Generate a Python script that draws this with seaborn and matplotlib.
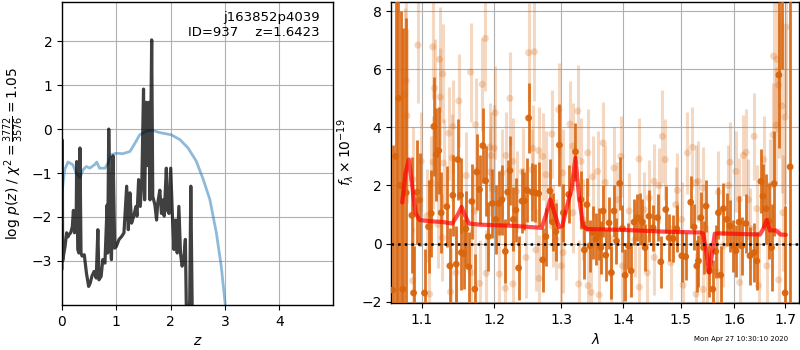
import numpy as np
import pandas as pd
import matplotlib
matplotlib.use("Agg")
import matplotlib.pyplot as plt
from matplotlib.ticker import NullLocator, FixedLocator, FixedFormatter
import seaborn as sns

# ---------------- data: left panel ----------------
z_pdf = [0.0, 0.05, 0.11, 0.2, 0.26, 0.33, 0.39, 0.45, 0.51, 0.6, 0.64, 0.69, 0.79, 0.85,
         0.91, 1.0, 1.12, 1.25, 1.31, 1.43, 1.55, 1.67, 1.8, 2.01, 2.17, 2.32, 2.47, 2.6,
         2.72, 2.84, 2.93, 3.0, 3.05]
logp_pdf = [-1.45, -0.92, -0.75, -0.81, -1.0, -1.11, -0.92, -0.85, -0.89, -0.81, -0.75, -0.89,
            -0.89, -0.77, -0.58, -0.55, -0.56, -0.51, -0.39, -0.13, -0.05, -0.03, -0.08, -0.13,
            -0.24, -0.43, -0.73, -1.15, -1.6, -2.36, -3.12, -3.95, -4.6]

z_chi = [0.0, 0.005, 0.012, 0.056, 0.086, 0.11, 0.13, 0.16, 0.19, 0.21, 0.23, 0.26, 0.27,
         0.29, 0.31, 0.33, 0.35, 0.37, 0.41, 0.45, 0.49, 0.52, 0.55, 0.59, 0.63, 0.66, 0.68,
         0.72, 0.75, 0.79, 0.83, 0.84, 0.86, 0.89, 0.91, 0.94, 0.97, 1.0, 1.05, 1.1, 1.14,
         1.19, 1.22, 1.25, 1.28, 1.32, 1.36, 1.38, 1.41, 1.44, 1.47, 1.50, 1.52, 1.55, 1.57,
         1.60, 1.62, 1.65, 1.67, 1.71, 1.74, 1.76, 1.80, 1.83, 1.86, 1.88, 1.92, 1.94, 1.97,
         2.0, 2.03, 2.06, 2.09, 2.12, 2.15, 2.18, 2.21, 2.24, 2.27, 2.29, 2.32, 2.35, 2.37,
         2.40, 2.42]
logp_chi = [-3.19, -0.25, -3.0, -2.67, -2.36, -2.45, -2.40, -2.36, -2.22, -1.85, -2.36, -2.22,
            -0.74, -2.74, -2.82, -0.43, -2.82, -2.89, -2.86, -3.28, -3.58, -3.50, -3.35, -3.24,
            -3.39, -2.29, -3.43, -3.35, -2.97, -3.05, -1.73, -2.82, 0.0, -2.51, -2.97, -0.61,
            -2.71, -2.67, -2.51, -2.44, -2.36, -1.30, -2.29, -1.45, -2.14, -1.98, -1.76, -1.98,
            -1.15, -1.76, -1.15, 0.91, -1.61, 0.61, -0.83, 0.61, -1.61, 2.03, -1.53, -1.73,
            -2.07, -1.70, -1.39, -1.92, -1.61, -1.98, -0.89, -1.85, -1.92, -0.89, -1.92, -2.74,
            -2.07, -2.82, -1.76, -2.82, -3.12, -2.97, -2.51, -4.3, -4.5, -3.9, -1.30, -4.6, -7.0]

title_lines = ["j163852p4039", "ID=937    z=1.6423"]
left_ylabel = r"log $p(z)$ / $\chi^2=\frac{3772}{3576}=1.05$"
timestamp = "Mon Apr 27 10:30:10 2020"

# ---------------- data: right panel ----------------
wave_a = [1.0621, 1.0660, 1.0697, 1.0723, 1.0753, 1.0797, 1.0870, 1.0892, 1.0940, 1.0970,
          1.1036, 1.1089, 1.1125, 1.1160, 1.1192, 1.1227, 1.1259, 1.1335, 1.1376, 1.1417,
          1.1464, 1.1486, 1.1523, 1.1533, 1.1565, 1.1597, 1.1638, 1.1680, 1.1722, 1.1750,
          1.1788, 1.1835, 1.1874, 1.1912, 1.1970, 1.2021, 1.2060, 1.2109, 1.2158, 1.2192,
          1.2225, 1.2275, 1.2313, 1.2353, 1.2402, 1.2438, 1.2477, 1.2502, 1.2552, 1.2603,
          1.2653, 1.2714, 1.2764, 1.2826, 1.2867, 1.2918, 1.2971, 1.3034, 1.3117, 1.3224,
          1.3312, 1.3366, 1.3408, 1.3456, 1.3500, 1.3555, 1.3595, 1.3632, 1.3670, 1.3713,
          1.3767, 1.3806, 1.3850, 1.3890, 1.3945, 1.3990, 1.4034, 1.4091, 1.4135, 1.4186,
          1.4244, 1.4283, 1.4329, 1.4374, 1.4443, 1.4513, 1.4590, 1.4648, 1.4735, 1.4793,
          1.4864, 1.4930, 1.5020, 1.5092, 1.5183, 1.5244, 1.5293, 1.5324, 1.5367, 1.5417,
          1.5465, 1.5527, 1.5589, 1.5644, 1.5694, 1.5737, 1.5788, 1.5851, 1.5914, 1.5979,
          1.6029, 1.6087, 1.6139, 1.6222, 1.6300, 1.6380, 1.6434, 1.6515, 1.6555, 1.6614,
          1.6673, 1.6727, 1.6779, 1.6874, 1.6935, 1.7001, 1.7103]
flux_a = [-1.6, 3.0, 5.0, 2.0, -1.57, 1.75, 0.97, -1.70, 1.77, 1.5,
          -1.70, 0.58, 1.04, 4.03, 3.06, 3.2, 1.06, 1.27, -0.77, 1.66,
          -0.71, 2.89, 1.66, -0.31, -0.35, 0.51, -0.80, 1.45, -1.57, 2.46,
          1.86, 3.37, 2.16, 0.24, 1.38, 0.83, 1.38, 1.51, -0.27, 1.77,
          2.51, 0.83, 1.15, -0.84, 1.46, 1.47, 1.84, 4.32, 1.77, 1.75,
          1.72, -0.56, 0.24, 1.81, 0.74, 0.41, 3.39, 1.06, 1.69, 3.16,
          1.51, -0.22, 1.34, -0.08, 0.38, 0.15, 0.32, -0.14, 1.12, -0.40,
          0.71, -1.0, 1.12, 0.09, 2.07, 0.52, -1.09, -0.08, -0.94, 0.74,
          0.89, 0.85, 0.74, -0.14, 0.94, 0.54, 0.89, -0.63, 1.17, 0.2,
          0.17, 0.51, -0.42, -0.45, 1.42, 0.57, -0.77, -0.6, 0.89, -0.14,
          1.29, -0.94, -1.57, -0.27, 1.06, -1.09, 1.2, 0.83, 0.6, -0.08,
          -0.25, 0.74, -0.08, 0.69, -0.42, -0.31, -0.6, 2.14, 1.63, 1.2,
          0.77, -0.14, 2.06, 5.8, 10.0, -1.7, 2.64]
err_a = [5.0, 9.0, 8.0, 6.0, 9.0, 6.0, 2.0, 1.6, 1.8, 1.6,
         1.5, 1.6, 1.5, 1.7, 1.6, 1.5, 1.4, 1.4, 1.3, 1.4,
         1.3, 1.4, 1.3, 1.3, 1.2, 1.3, 1.2, 1.3, 1.2, 1.3,
         1.2, 1.3, 1.2, 1.2, 1.2, 1.2, 1.1, 1.2, 1.1, 1.1,
         1.2, 1.1, 1.1, 1.1, 1.1, 1.0, 1.1, 1.2, 1.0, 1.0,
         1.1, 1.1, 1.0, 1.1, 1.0, 1.0, 1.4, 1.0, 1.0, 1.0,
         1.0, 1.0, 0.9, 0.9, 0.9, 0.9, 0.9, 0.9, 0.9, 0.9,
         0.9, 0.9, 0.9, 0.8, 0.9, 0.8, 0.9, 0.8, 0.9, 0.8,
         0.8, 0.9, 0.8, 0.8, 0.9, 0.8, 0.8, 0.9, 0.8, 0.8,
         0.8, 0.8, 0.9, 0.8, 0.9, 0.8, 0.9, 0.9, 0.9, 0.9,
         0.9, 0.9, 1.0, 0.9, 0.9, 1.0, 0.9, 0.9, 0.9, 0.9,
         0.9, 0.9, 1.0, 1.0, 1.0, 1.0, 1.0, 1.1, 1.1, 1.2,
         1.3, 1.5, 1.8, 2.5, 4.0, 3.0, 11.0]

wave_b = [1.0775, 1.0797, 1.0805, 1.0948, 1.1146, 1.1236, 1.1245, 1.1281, 1.1169, 1.1362,
          1.1417, 1.1500, 1.1662, 1.1870, 1.1826, 1.1732, 1.1409, 1.1290, 1.1150, 1.0992,
          1.0883, 1.1125, 1.1068, 1.1213, 1.1275, 1.1464, 1.1672, 1.1788, 1.1883, 1.1102,
          1.0880, 1.1385, 1.1602, 1.1718, 1.1931, 1.1955, 1.1940,
          1.2502, 1.2588, 1.2225, 1.2012, 1.2562, 1.2856, 1.2960, 1.3138, 1.3259, 1.3023,
          1.3181, 1.3419, 1.3312, 1.3500, 1.2714, 1.2167, 1.2265, 1.2412, 1.2653, 1.2764,
          1.1997, 1.2109, 1.2324, 1.2550, 1.2867, 1.3030, 1.2462, 1.2612, 1.2070, 1.2270,
          1.2158, 1.2660, 1.3000, 1.3275, 1.3425, 1.3474, 1.2918, 1.3185, 1.3340,
          1.3670, 1.3578, 1.3702, 1.3850, 1.3962, 1.3907, 1.4677, 1.4723, 1.4271, 1.4530,
          1.4618, 1.4443, 1.4943, 1.5123, 1.5214, 1.5275, 1.3605, 1.3795, 1.3990, 1.4275,
          1.4415, 1.4535, 1.4823, 1.5044, 1.5280, 1.4913, 1.4102, 1.4357, 1.5020, 1.4203,
          1.6767, 1.6834, 1.6868, 1.6935, 1.7001, 1.7022, 1.6820, 1.6753, 1.6380, 1.6222,
          1.6171, 1.6569, 1.5914, 1.6029, 1.5324, 1.5404, 1.5694, 1.5883, 1.6269, 1.6700,
          1.6955, 1.6434, 1.6095, 1.6300, 1.5788, 1.5478, 1.5662, 1.5410, 1.6100, 1.6468,
          1.6634, 1.6870]
flux_b = [5.12, 5.6, 4.4, 6.83, 6.77, 6.34, 5.04, 5.84, 5.35, 3.8,
          4.03, 4.91, 5.9, 7.06, 5.48, 4.09, 2.95, 2.77, 2.8, 2.83,
          2.2, 2.1, 0.95, 0.66, 0.2, -1.0, -1.0, -1.37, -1.02, -1.74,
          -1.28, -1.66, 2.34, 1.12, 3.32, 3.03, 2.46,
          6.57, 6.6, 5.0, 4.5, 3.28, 3.77, 4.61, 4.11, 4.56, 2.43,
          3.35, 3.12, 2.83, 2.3, 3.0, 3.03, 2.83, 2.48, 3.2, 2.37,
          3.28, 2.43, 1.8, 2.54, 0.6, -0.31, -0.48, -0.22, -1.05, -1.39,
          -1.54, -1.2, -0.77, -1.39, -1.45, -1.68, 0.14, 1.06, 0.83,
          3.46, 2.48, 2.1, 2.6, 3.0, 1.51, 3.69, 2.89, 2.91, 2.14,
          2.0, 1.57, 1.83, 3.12, 3.31, 2.1, -1.77, -1.02, -0.77, -1.5,
          -1.0, -0.48, -0.66, -1.43, -1.74, 1.34, 1.12, 1.17, 0.83, 0.14,
          6.45, 6.34, 5.45, 4.74, 4.35, 7.45, 4.08, 3.74, 3.69, 3.14,
          3.03, 2.89, 2.8, 2.48, 2.14, 1.91, 1.77, 2.0, 1.51, 2.0,
          1.06, 1.2, 1.53, 0.52, -0.08, -0.77, -0.97, -1.58, -1.34, -1.45,
          -0.77, -1.25]
err_b = [3.0, 3.0, 3.0, 2.0, 1.8, 1.8, 1.7, 1.7, 1.7, 1.6,
         1.6, 1.6, 1.7, 1.8, 1.6, 1.6, 1.5, 1.5, 1.6, 1.7,
         1.8, 1.6, 1.6, 1.5, 1.5, 1.5, 1.5, 1.5, 1.5, 1.6,
         1.8, 1.5, 1.5, 1.5, 1.5, 1.5, 1.5,
         1.7, 1.7, 1.6, 1.6, 1.5, 1.5, 1.6, 1.5, 1.6, 1.5,
         1.5, 1.5, 1.5, 1.4, 1.5, 1.5, 1.5, 1.5, 1.5, 1.5,
         1.5, 1.5, 1.4, 1.4, 1.4, 1.4, 1.4, 1.4, 1.5, 1.5,
         1.5, 1.5, 1.4, 1.5, 1.5, 1.5, 1.4, 1.4, 1.4,
         1.4, 1.4, 1.3, 1.4, 1.4, 1.3, 1.6, 1.4, 1.4, 1.3,
         1.3, 1.3, 1.3, 1.4, 1.4, 1.3, 1.4, 1.3, 1.3, 1.4,
         1.3, 1.3, 1.3, 1.4, 1.4, 1.3, 1.3, 1.3, 1.3, 1.3,
         2.5, 2.5, 2.5, 3.0, 3.0, 3.0, 2.0, 1.8, 1.5, 1.5,
         1.4, 1.5, 1.4, 1.4, 1.4, 1.4, 1.4, 1.4, 1.4, 1.6,
         2.0, 1.5, 1.4, 1.4, 1.4, 1.4, 1.4, 1.5, 1.4, 1.5,
         1.5, 1.8]

wave_model = [1.0745, 1.0788, 1.0831, 1.0875, 1.0918, 1.0970, 1.1102, 1.1281, 1.1409,
              1.1486, 1.1537, 1.1578, 1.1638, 1.1788, 1.2270, 1.2699, 1.2760, 1.2832,
              1.2894, 1.2965, 1.3018, 1.3091, 1.3160, 1.3224, 1.3280, 1.3344, 1.3408,
              1.4000, 1.4688, 1.5348, 1.5409, 1.5472, 1.5520, 1.5570, 1.5626, 1.5718,
              1.6495, 1.6560, 1.6628, 1.6693, 1.6813, 1.6908, 1.7015]
flux_model = [1.41, 2.43, 2.89, 1.97, 1.06, 0.81, 0.77, 0.74, 0.69,
              1.0, 1.26, 1.0, 0.69, 0.65, 0.61, 0.54, 0.95, 1.52,
              1.06, 0.56, 0.61, 1.29, 1.86, 2.95, 1.63, 0.61, 0.5,
              0.47, 0.41, 0.38, 0.35, -0.31, -1.0, -0.42, 0.34, 0.35,
              0.31, 0.5, 0.81, 0.45, 0.45, 0.31, 0.3]

lam_ticks = [1.1, 1.2, 1.3, 1.4, 1.5, 1.6, 1.7]
lam_ticklabels = ["1.1", "1.2", "1.3", "1.4", "1.5", "1.6", "1.7"]

# ---------------- style ----------------
sns.set_style("ticks")
plt.rcParams.update({
    "font.family": ["DejaVu Sans"],
    "axes.edgecolor": "black",
    "axes.linewidth": 1.0,
    "xtick.color": "black",
    "ytick.color": "black",
    "text.color": "black",
    "axes.labelcolor": "black",
    "xtick.direction": "out",
    "ytick.direction": "out",
    "xtick.major.size": 3.5,
    "ytick.major.size": 3.5,
    "font.size": 10,
})

fig = plt.figure(figsize=(8, 3.5), dpi=100)
ax1 = fig.add_axes([0.0775, 0.129, 0.339, 0.865])
ax2 = fig.add_axes([0.489, 0.134, 0.510, 0.860])

grid_kw = dict(color="#b0b0b0", lw=0.8)

# left panel
sns.lineplot(x=z_pdf, y=logp_pdf, ax=ax1, color="#1f77b4", alpha=0.5, lw=2,
             estimator=None, sort=False)
sns.lineplot(x=z_chi, y=logp_chi, ax=ax1, color="black", alpha=0.75, lw=2.3,
             estimator=None, sort=False)
ax1.set_xlim(0, 4.99)
ax1.set_ylim(-4.0, 2.89)
ax1.set_xticks([0, 1, 2, 3, 4])
ax1.set_yticks([-3, -2, -1, 0, 1, 2])
ax1.grid(True, **grid_kw)
ax1.set_axisbelow(True)
ax1.set_xlabel("$z$")
ax1.set_ylabel(left_ylabel)
ax1.text(0.95, 0.97, "\n".join(title_lines), transform=ax1.transAxes,
         ha="right", va="top", fontsize=9.5)

# right panel
orange = "#d9650d"
ax2.set_xscale("log")
ax2.errorbar(wave_b, flux_b, yerr=err_b, fmt="none", ecolor=orange, elinewidth=2.2,
             alpha=0.25, zorder=2)
sns.scatterplot(x=wave_b, y=flux_b, ax=ax2, color=orange, alpha=0.25, s=26,
                edgecolor="none", zorder=2)
ax2.errorbar(wave_a, flux_a, yerr=err_a, fmt="none", ecolor=orange, elinewidth=2.0,
             alpha=0.9, zorder=3)
sns.scatterplot(x=wave_a, y=flux_a, ax=ax2, color=orange, alpha=0.95, s=24,
                edgecolor="none", zorder=3)
sns.lineplot(x=wave_model, y=flux_model, ax=ax2, color="red", alpha=0.7, lw=3,
             estimator=None, sort=False, zorder=4)
ax2.axhline(0, color="black", ls=":", lw=1.8, zorder=5)
ax2.set_xlim(1.0604, 1.729)
ax2.set_ylim(-2.05, 8.31)
ax2.xaxis.set_major_locator(FixedLocator(lam_ticks))
ax2.xaxis.set_major_formatter(FixedFormatter(lam_ticklabels))
ax2.xaxis.set_minor_locator(NullLocator())
ax2.set_yticks([-2, 0, 2, 4, 6, 8])
ax2.grid(True, which="major", **grid_kw)
ax2.set_axisbelow(True)
ax2.set_xlabel(r"$\lambda$")
ax2.set_ylabel(r"$f_\lambda\times10^{-19}$")

fig.text(0.985, 0.03, timestamp, ha="right", va="center", fontsize=5)

fig.savefig("out.png", dpi=100)
